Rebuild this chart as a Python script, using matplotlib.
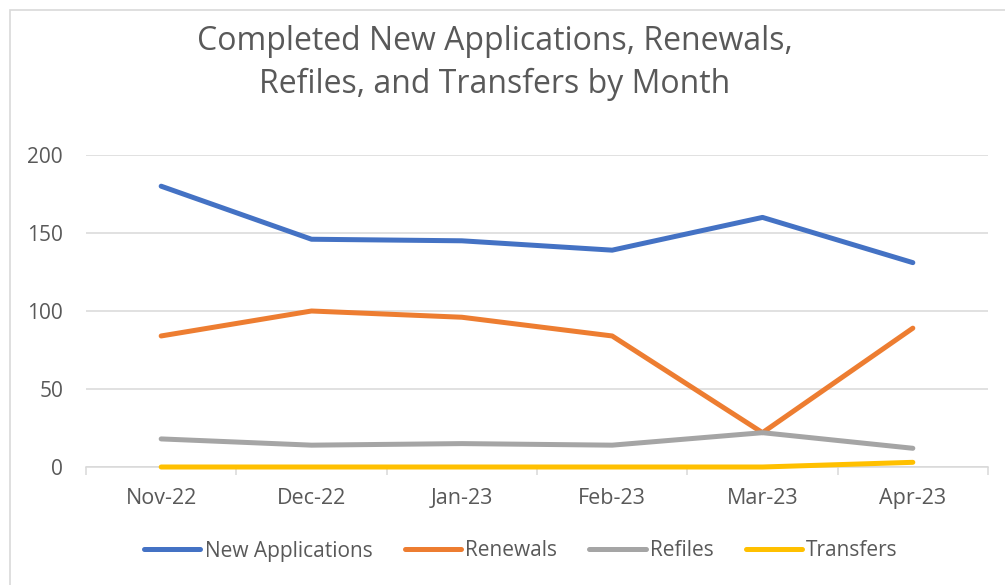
import matplotlib.pyplot as plt
from matplotlib.patches import Rectangle

# data
months = ['Nov-22', 'Dec-22', 'Jan-23', 'Feb-23', 'Mar-23', 'Apr-23']
new_apps = [180, 146, 145, 139, 160, 131]
renewals = [84, 100, 96, 84, 22, 89]
refiles = [18, 14, 15, 14, 22, 12]
transfers = [0, 0, 0, 0, 0, 3]

series = [('New Applications', new_apps, '#4472C4'),
          ('Renewals', renewals, '#ED7D31'),
          ('Refiles', refiles, '#A5A5A5'),
          ('Transfers', transfers, '#FFC000')]

plt.rcParams['font.family'] = ['Open Sans', 'DejaVu Sans']
text_col = '#595959'
grid_col = '#D9D9D9'

fig = plt.figure(figsize=(10.05, 5.85), dpi=100)
ax = fig.add_axes([86/1005, 1 - 467/585, (988 - 86)/1005, (467 - 155)/585])

# chart border
fig.patches.append(Rectangle((10/1005, -0.1), 1.2, 1.1 - 10/585, transform=fig.transFigure,
                             fill=False, edgecolor=grid_col, lw=1.2))

x = list(range(len(months)))
for name, vals, col in series:
    ax.plot(x, vals, color=col, lw=3.6, label=name, solid_capstyle='round',
            solid_joinstyle='round', clip_on=False, zorder=3)

ax.set_ylim(0, 200)
ax.set_xlim(-0.5, len(months) - 0.5)
ax.set_yticks([0, 50, 100, 150, 200])
ax.yaxis.grid(True, color=grid_col, lw=1.1)
ax.set_axisbelow(True)
ax.set_xticks(x)
ax.set_xticklabels(months)
ax.set_xticks([i - 0.5 for i in range(len(months) + 1)], minor=True)
ax.tick_params(axis='x', which='major', length=0, pad=15, labelsize=15.5, labelcolor=text_col)
ax.tick_params(axis='x', which='minor', length=6, color=grid_col, width=1.1)
ax.tick_params(axis='y', length=0, pad=16.5, labelsize=15, labelcolor=text_col)
for s in ['top', 'right', 'left']:
    ax.spines[s].set_visible(False)
ax.spines['bottom'].set_color(grid_col)
ax.spines['bottom'].set_linewidth(1.1)
ax.spines['bottom'].set_zorder(1)

fig.text(495/1005, 1 - 63/585, 'Completed New Applications, Renewals,\nRefiles, and Transfers by Month',
         ha='center', va='center', fontsize=23, color=text_col, linespacing=1.42)

leg = ax.legend(loc='center', bbox_to_anchor=(521/1005, 1 - 551/585), bbox_transform=fig.transFigure,
                ncol=4, frameon=False, fontsize=15, handlelength=2.7, handletextpad=0.2,
                columnspacing=1.55)
for t in leg.get_texts():
    t.set_color(text_col)

fig.savefig('out.png', dpi=100)
